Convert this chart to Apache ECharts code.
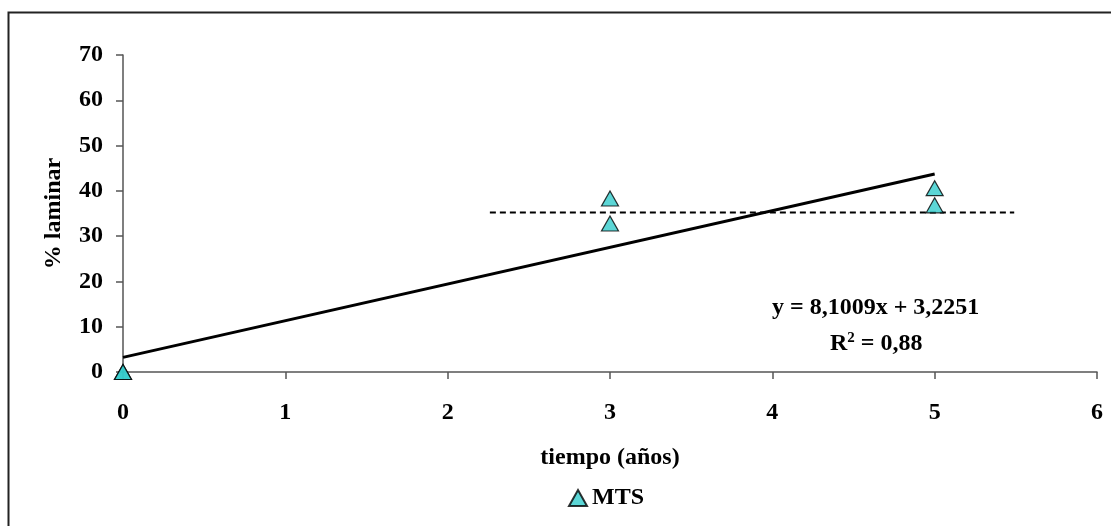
<!DOCTYPE html>
<html>
<head>
<meta charset="utf-8">
<script src="https://cdn.jsdelivr.net/npm/echarts@6/dist/echarts.min.js"></script>
<style>
html,body{margin:0;padding:0;background:#fff;}
#c{width:1111px;height:526px;}
</style>
</head>
<body>
<div id="c"></div>
<script>
// Data
const timeYears = [0, 0, 3, 3, 5, 5];
const laminarPct = [0, 0, 38.3, 32.8, 40.6, 36.8];
const trendX = [0, 5];
const trendY = [3.2251, 43.73];
const meanLineX = [2.26, 5.49];
const meanLineY = [35.2, 35.2];
const seriesName = 'MTS';
const xTitle = 'tiempo (años)';
const yTitle = '% laminar';
const eqLine1 = 'y = 8,1009x + 3,2251';
const eqLine2 = 'R{s|2} = 0,88';

const FONT = '"Liberation Serif", "Times New Roman", serif';
const chart = echarts.init(document.getElementById('c'), null, {renderer: 'canvas'});

const zip = (a, b) => a.map((v, i) => [v, b[i]]);

chart.setOption({
  animation: false,
  backgroundColor: '#fff',
  grid: {left: 123, right: 14, top: 55, bottom: 154, containLabel: false},
  xAxis: {
    type: 'value', min: 0, max: 6, interval: 1,
    name: xTitle, nameLocation: 'middle', nameGap: 74,
    nameTextStyle: {fontFamily: FONT, fontWeight: 'bold', fontSize: 24, color: '#000'},
    axisLine: {show: true, onZero: false, lineStyle: {color: '#555', width: 1.5}},
    axisTick: {show: true, length: 7, lineStyle: {color: '#555', width: 1.5}},
    axisLabel: {fontFamily: FONT, fontWeight: 'bold', fontSize: 24, color: '#000', margin: 29},
    splitLine: {show: false}
  },
  yAxis: {
    type: 'value', min: 0, max: 70, interval: 10,
    name: yTitle, nameLocation: 'middle', nameGap: 57, nameRotate: 90,
    nameTextStyle: {fontFamily: FONT, fontWeight: 'bold', fontSize: 24, color: '#000'},
    axisLine: {show: true, lineStyle: {color: '#555', width: 1.5}},
    axisTick: {show: true, length: 7, lineStyle: {color: '#555', width: 1.5}},
    axisLabel: {fontFamily: FONT, fontWeight: 'bold', fontSize: 24, color: '#000', margin: 20},
    splitLine: {show: false}
  },
  legend: {
    data: [seriesName], bottom: 11, left: 563,
    itemWidth: 18, itemHeight: 16, itemGap: 5,
    textStyle: {fontFamily: FONT, fontWeight: 'bold', fontSize: 24, color: '#000'}
  },
  graphic: [
    {type: 'rect', silent: true, z: 100,
     shape: {x: 8.5, y: 12.5, width: 1300, height: 700},
     style: {fill: 'none', stroke: '#222', lineWidth: 2}},
    {type: 'text', left: 772, top: 296, z: 50,
     style: {text: eqLine1, fontFamily: FONT, fontWeight: 'bold', fontSize: 24, fill: '#000'}},
    {type: 'text', left: 830, top: 331, z: 50,
     style: {rich: {s: {fontFamily: FONT, fontWeight: 'bold', fontSize: 15, verticalAlign: 'top', padding: [0,0,10,0], fill: '#000'}},
       text: eqLine2, fontFamily: FONT, fontWeight: 'bold', fontSize: 24, fill: '#000'}}
  ],
  series: [
    {
      name: 'trend', type: 'line', data: zip(trendX, trendY),
      symbol: 'none', lineStyle: {color: '#000', width: 3}, z: 2, silent: true
    },
    {
      name: 'mean', type: 'line', data: zip(meanLineX, meanLineY),
      symbol: 'none', lineStyle: {color: '#000', width: 2, type: [6, 4]}, z: 2, silent: true
    },
    {
      name: seriesName, type: 'scatter', data: zip(timeYears, laminarPct),
      symbol: 'triangle', symbolSize: [17, 15],
      itemStyle: {color: '#33CCCC', borderColor: '#000', borderWidth: 1.2},
      z: 5
    }
  ]
});
</script>
</body>
</html>
